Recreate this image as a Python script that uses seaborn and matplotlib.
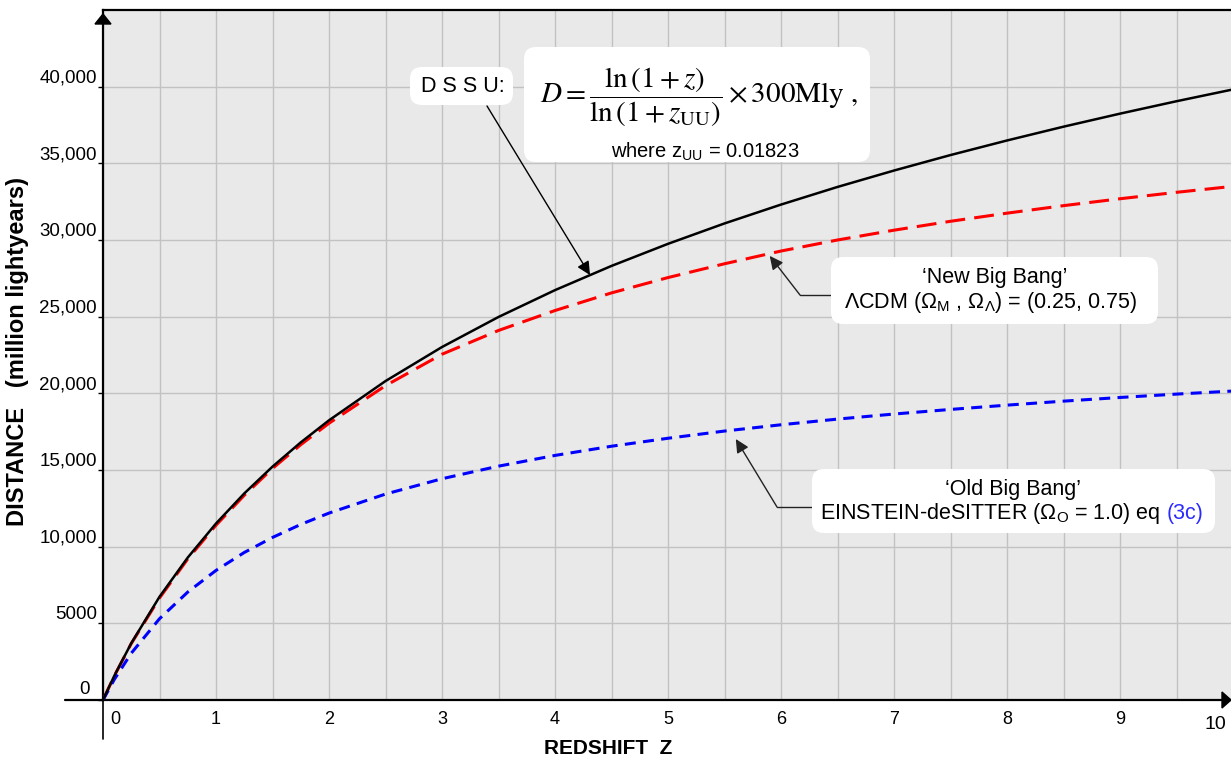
import numpy as np
import pandas as pd
import seaborn as sns
import matplotlib
matplotlib.use("Agg")
import matplotlib.pyplot as plt
from matplotlib.patches import FancyBboxPatch, Polygon
from matplotlib.lines import Line2D
from matplotlib.text import Annotation
from matplotlib.transforms import IdentityTransform, ScaledTranslation
from matplotlib.ticker import MultipleLocator

# values (distance in million lightyears)
redshift = [0, 0.1, 0.25, 0.5, 0.75, 1, 1.25, 1.5, 1.75, 2, 2.5, 3, 3.5, 4, 4.5,
            5, 5.5, 6, 6.5, 7, 7.5, 8, 8.5, 9, 9.5, 10]
dssu = [0, 1580, 3700, 6730, 9290, 11510, 13470, 15220, 16800, 18240, 20800, 23020,
        24980, 26730, 28310, 29750, 31080, 32310, 33460, 34530, 35540, 36490, 37390,
        38240, 39050, 39820]
lcdm = [0, 1570, 3680, 6650, 9200, 11400, 13350, 15100, 16650, 18050, 20500, 22550,
        24100, 25400, 26550, 27550, 28450, 29280, 30000, 30640, 31220, 31750, 32240,
        32690, 33110, 33500]
eds = [0, 1340, 3050, 5300, 7040, 8450, 9620, 10600, 11450, 12190, 13430, 14430,
       15250, 15950, 16550, 17070, 17540, 17950, 18320, 18650, 18950, 19230, 19490,
       19730, 19950, 20150]
ytick_vals = [0, 5000, 10000, 15000, 20000, 25000, 30000, 35000, 40000]
ytick_labels = ["0", "5000", "10,000", "15,000", "20,000", "25,000", "30,000", "35,000", "40,000"]
xtick_vals = list(range(11))

W, H = 1231, 759
sns.set_theme(style="darkgrid", rc={"axes.facecolor": "#e9e9e9", "grid.color": "#c2c2c2",
                                    "grid.linewidth": 1.0, "text.color": "black"})
plt.rcParams["font.family"] = ["Liberation Sans", "DejaVu Sans"]

fig = plt.figure(figsize=(W / 100, H / 100), dpi=100)
fig.patch.set_facecolor("white")
ax = fig.add_axes([103 / W, 59 / H, 1130 / W, 690 / H])

sns.lineplot(x=redshift, y=dssu, color="black", lw=1.8, ax=ax, errorbar=None, zorder=4)
sns.lineplot(x=redshift, y=lcdm, color="red", lw=2.2, ax=ax, errorbar=None, zorder=3)
ax.lines[-1].set_dashes([6.5, 3])
sns.lineplot(x=redshift, y=eds, color="blue", lw=2.2, ax=ax, errorbar=None, zorder=3)
ax.lines[-1].set_dashes([3.6, 2.4])

ax.set_xlim(0, 10)
ax.set_ylim(0, 45000)
ax.set_xticks(xtick_vals)
ax.set_xticklabels([str(v) for v in xtick_vals])
ax.xaxis.set_minor_locator(MultipleLocator(0.5))
ax.set_yticks(ytick_vals)
ax.set_yticklabels(ytick_labels)
ax.grid(True, which="both", axis="x")
ax.grid(True, which="major", axis="y")
ax.tick_params(axis="x", which="both", length=0, pad=8, labelsize=13, labelcolor="black")
ax.tick_params(axis="y", left=True, length=3.5, width=1, color="black", direction="out",
               pad=1, labelsize=13.5, labelcolor="black")
ax.set_xlabel("")
ax.set_ylabel("")
for lab in ax.get_yticklabels():
    lab.set_va("bottom")
ylabs = ax.get_yticklabels()
ylabs[0].set_transform(ylabs[0].get_transform() + ScaledTranslation(-0.07, 0.02, fig.dpi_scale_trans))
xlabs = ax.get_xticklabels()
xlabs[0].set_transform(xlabs[0].get_transform() + ScaledTranslation(0.12, 0, fig.dpi_scale_trans))
xlabs[-1].set_transform(xlabs[-1].get_transform() + ScaledTranslation(-0.18, -0.05, fig.dpi_scale_trans))
xlabs[-1].set_fontsize(14)

for s in ["left", "bottom", "top"]:
    ax.spines[s].set_visible(True)
    ax.spines[s].set_color("black")
    ax.spines[s].set_linewidth(1.6)
ax.spines["right"].set_visible(False)

idt = IdentityTransform()


def P(x, y):
    return (x, H - y)


# axis extensions and arrow heads
fig.add_artist(Line2D([65, 103], [H - 700, H - 700], transform=idt, color="black", lw=1.6))
fig.add_artist(Line2D([103, 103], [H - 700, H - 739], transform=idt, color="black", lw=1.2))
fig.add_artist(Polygon([P(95, 24), P(111, 24), P(103, 14)], closed=True, transform=idt,
                       color="black", zorder=6))
fig.add_artist(Polygon([P(1222, 692), P(1222, 708), P(1231, 700)], closed=True, transform=idt,
                       color="black", zorder=6))

fig.text(18 / W, 1 - 351 / H, "DISTANCE   (million lightyears)", rotation=90, fontsize=17,
         fontweight="bold", ha="center", va="center")
fig.text(608 / W, 1 - 748 / H, "REDSHIFT  Z", fontsize=15, fontweight="bold",
         ha="center", va="center")


def box(x0, y0, x1, y1):
    fig.add_artist(FancyBboxPatch((x0, H - y1), x1 - x0, y1 - y0,
                                  boxstyle="round,pad=0,rounding_size=12", transform=idt,
                                  fc="white", ec="none", zorder=5))


def txt(x, y, s, **kw):
    kw.setdefault("ha", "center")
    kw.setdefault("va", "center")
    kw.setdefault("fontsize", 15.5)
    return fig.text(x / W, 1 - y / H, s, zorder=6, **kw)


def arrow(start, tip, color="black"):
    ax.annotate("", xy=tip, xycoords="data", xytext=(start[0] / W, 1 - start[1] / H),
                textcoords="figure fraction", zorder=6,
                arrowprops=dict(arrowstyle="-|>,head_length=0.45,head_width=0.22",
                                color=color, lw=1.0, mutation_scale=18,
                                shrinkA=0, shrinkB=0))


# DSSU
box(410, 67, 513, 105)
txt(463, 86, "D S S U:", fontsize=15.5)
box(524, 47, 870, 162)
txt(699, 97, r"$D=\dfrac{\ln\left(1+z\right)}{\ln\left(1+z_{\mathrm{UU}}\right)}\times300\mathrm{Mly}\ ,$",
    math_fontfamily="stix", fontsize=21)
txt(705, 152, r"where z$_{\mathregular{UU}}$ = 0.01823", fontsize=14.5)
tip_z = 4.31
arrow((487, 106), (tip_z, float(np.interp(tip_z, redshift, dssu))))

# New Big Bang
box(831, 257, 1158, 324)
txt(995, 278, "\u2018New Big Bang\u2019")
txt(990, 302, "\u039bCDM (\u03a9$_{\\mathregular{M}}$ , \u03a9$_{\\mathregular{\u039b}}$) = (0.25, 0.75)")
fig.add_artist(Line2D([831, 800], [H - 295, H - 295], transform=idt, color="#222", lw=1.0))
tip_z = 5.9
arrow((800, 295), (tip_z, float(np.interp(tip_z, redshift, lcdm)) - 150), color="#222")

# Old Big Bang
box(812, 469, 1215, 533)
txt(1013, 489, "\u2018Old Big Bang\u2019")
t3c = txt(1203, 518.5, "(3c)", ha="right", va="baseline", color="#2b2bff")
fig.add_artist(Annotation("EINSTEIN-deSITTER (\u03a9$_{\\mathregular{O}}$ = 1.0) eq",
                          xy=(0, 1 - 518.5 / H), xycoords=(t3c, "figure fraction"),
                          xytext=(-4, 0), textcoords="offset points",
                          ha="right", va="baseline", fontsize=15.5, zorder=6,
                          annotation_clip=False))
fig.add_artist(Line2D([812, 777], [H - 507, H - 507], transform=idt, color="#222", lw=1.0))
tip_z = 5.6
arrow((777, 507), (tip_z, float(np.interp(tip_z, redshift, eds)) - 600), color="#222")

fig.savefig("out.png", dpi=100)
